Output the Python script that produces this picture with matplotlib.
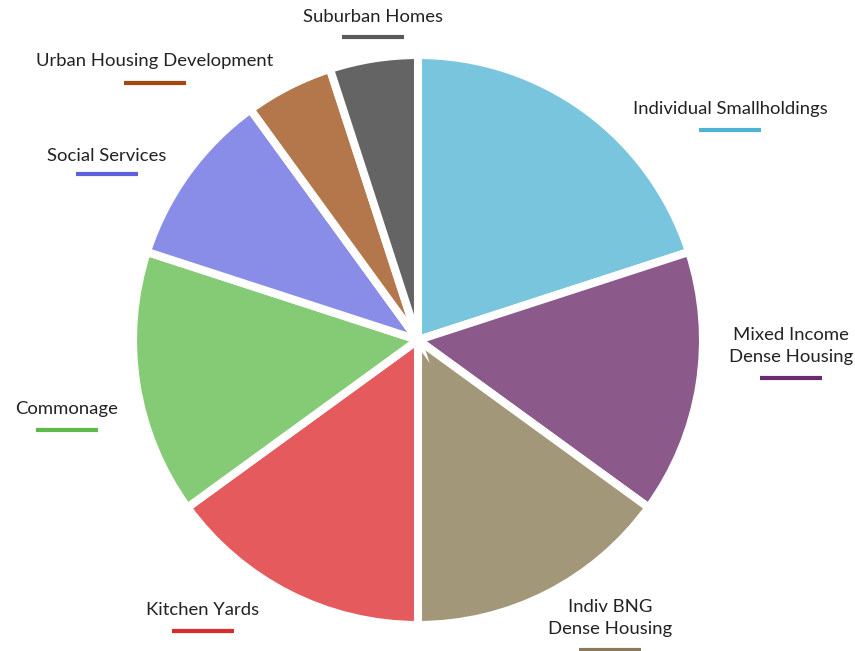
import matplotlib
matplotlib.use("Agg")
import matplotlib.pyplot as plt
from matplotlib.lines import Line2D

W, H = 855, 651

categories = ["Individual Smallholdings", "Mixed Income\nDense Housing", "Indiv BNG\nDense Housing",
              "Kitchen Yards", "Commonage", "Social Services", "Urban Housing Development",
              "Suburban Homes"]
values = [20, 15, 15, 15, 15, 10, 5, 5]
wedge_colors = ["#79C5DE", "#8B5A8B", "#A39779", "#E55B5D", "#85CB75", "#8A8DE8", "#B4774B", "#646464"]
line_colors = ["#4FB3D4", "#6A2C6E", "#8B7A5A", "#DC2B2B", "#5CBA48", "#5E5FDB", "#A5470F", "#5A5A5A"]
# label centre positions (pixels from top-left) and underline y
label_pos = [(730, 109), (791, 346), (610, 618), (203, 610), (67, 409), (107, 156), (155, 61), (373, 17)]
line_y = [130, 378, 650, 631, 430, 174, 83, 37]

plt.rcParams['font.family'] = ['Lato', 'DejaVu Sans']

fig = plt.figure(figsize=(W / 100, H / 100), dpi=100)
cx, cy, r = 418, 340, 285
ax = fig.add_axes([(cx - r) / W, (H - cy - r) / H, 2 * r / W, 2 * r / H])
ax.pie(values, colors=wedge_colors, startangle=90, counterclock=False,
       wedgeprops=dict(edgecolor="white", linewidth=5.8))
ax.set_xlim(-1, 1)
ax.set_ylim(-1, 1)
ax.set_aspect("equal")
ax.axis("off")

for lab, (x, y), ly, lc in zip(categories, label_pos, line_y, line_colors):
    fig.text(x / W, 1 - y / H, lab, ha="center", va="center", fontsize=13.3,
             color="#222222", linespacing=1.5)
    fig.add_artist(Line2D([(x - 31) / W, (x + 31) / W], [1 - ly / H, 1 - ly / H],
                          transform=fig.transFigure, color=lc, linewidth=3, solid_capstyle="butt"))

fig.savefig("out.png", dpi=100)
